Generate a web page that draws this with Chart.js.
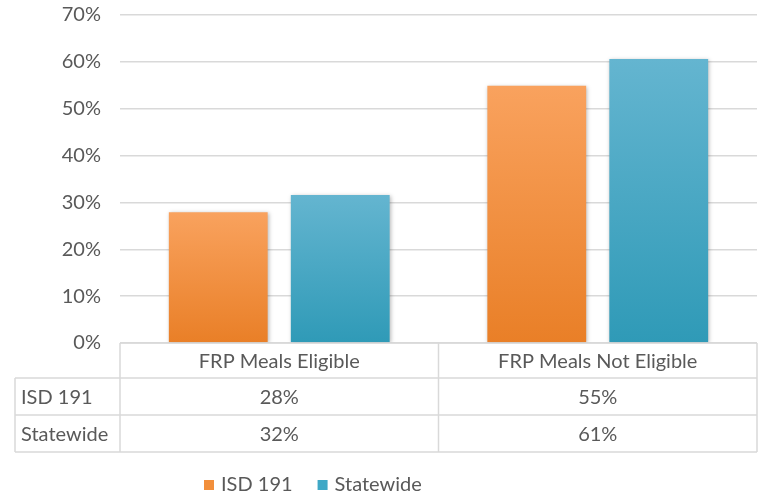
<!DOCTYPE html>
<html lang="en">
<head>
    <meta charset="UTF-8">
    <script src="https://cdn.jsdelivr.net/npm/chart.js@4/dist/chart.umd.min.js"></script>
    <title>FRP Meals</title>
    <style>
        html, body { margin: 0; padding: 0; background: #fff; }
        #wrap { width: 759px; height: 496px; }
    </style>
</head>
<body>
    <div id="wrap"><canvas id="frpChart" width="759" height="496"></canvas></div>

    <script>
        // data
        var categories = ["FRP Meals Eligible", "FRP Meals Not Eligible"]
        var seriesNames = ["ISD 191", "Statewide"]
        var isdValues = [27.9, 54.9]
        var stateValues = [31.6, 60.6]
        var yTicks = ["0%", "10%", "20%", "30%", "40%", "50%", "60%", "70%"]

        var FONT = "Lato, 'Open Sans', sans-serif"
        var SIZE = 20
        var TEXT = "#595959"
        var LINE = "#d9d9d9"
        var shades = [
            { top: "#f9a25e", bottom: "#e97f27", solid: "#f28f3b" },
            { top: "#64b5d0", bottom: "#2f9ab7", solid: "#3fa8c6" }
        ]

        function barFill (idx) {
            return function (ctx) {
                var chart = ctx.chart
                var y = chart.scales.y
                if (!chart.chartArea || !y || ctx.raw == null) return shades[idx].solid
                var t = y.getPixelForValue(ctx.raw)
                var b = y.getPixelForValue(0)
                var g = chart.ctx.createLinearGradient(0, t, 0, b)
                g.addColorStop(0, shades[idx].top)
                g.addColorStop(1, shades[idx].bottom)
                return g
            }
        }

        // soft shadow behind the bars
        var barShadow = {
            id: "barShadow",
            beforeDatasetsDraw (chart) {
                var c = chart.ctx
                c.save()
                c.shadowColor = "rgba(0,0,0,0.28)"
                c.shadowBlur = 4
                c.shadowOffsetX = 1
                c.shadowOffsetY = 1
            },
            afterDatasetsDraw (chart) {
                chart.ctx.restore()
            }
        }

        // data table under the plot + legend
        var dataTable = {
            id: "dataTable",
            afterDraw (chart) {
                var c = chart.ctx
                var x = chart.scales.x
                var area = chart.chartArea
                var half = (x.getPixelForValue(1) - x.getPixelForValue(0)) / 2
                var left = 15
                var colL = area.left
                var right = area.right
                var rows = [area.bottom, area.bottom + 35, area.bottom + 72, area.bottom + 109]

                c.save()
                c.strokeStyle = LINE
                c.lineWidth = 1.5
                c.beginPath()
                // header row has no label cell
                c.moveTo(colL, rows[0]); c.lineTo(right, rows[0])
                c.moveTo(left, rows[1]); c.lineTo(right, rows[1])
                c.moveTo(left, rows[2]); c.lineTo(right, rows[2])
                c.moveTo(left, rows[3]); c.lineTo(right, rows[3])
                c.moveTo(left, rows[1]); c.lineTo(left, rows[3])
                c.moveTo(colL, rows[0]); c.lineTo(colL, rows[3])
                categories.forEach(function (cat, i) {
                    var xr = x.getPixelForValue(i) + half
                    c.moveTo(xr, rows[0]); c.lineTo(xr, rows[3])
                })
                c.stroke()

                c.fillStyle = TEXT
                c.font = SIZE + "px " + FONT
                c.textBaseline = "middle"
                c.textAlign = "center"
                categories.forEach(function (cat, i) {
                    var cx = x.getPixelForValue(i)
                    c.fillText(cat, cx, (rows[0] + rows[1]) / 2 + 1)
                    chart.data.datasets.forEach(function (ds, j) {
                        c.fillText(Math.round(ds.data[i]) + "%", cx, (rows[j + 1] + rows[j + 2]) / 2 + 1)
                    })
                })
                c.textAlign = "left"
                chart.data.datasets.forEach(function (ds, j) {
                    c.fillText(ds.label, left + 6, (rows[j + 1] + rows[j + 2]) / 2 + 1)
                })

                // legend
                var ly = 485
                var lx = 204
                chart.data.datasets.forEach(function (ds, j) {
                    c.fillStyle = shades[j].solid
                    c.fillRect(lx, ly - 5, 10, 10)
                    c.fillStyle = TEXT
                    c.fillText(ds.label, lx + 17, ly)
                    lx += 17 + c.measureText(ds.label).width + 25
                })
                c.restore()
            }
        }

        new Chart("frpChart", {
            type: "bar",
            data: {
                labels: categories,
                datasets: [{
                    label: seriesNames[0],
                    data: isdValues,
                    backgroundColor: barFill(0)
                }, {
                    label: seriesNames[1],
                    data: stateValues,
                    backgroundColor: barFill(1)
                }]
            },
            options: {
                responsive: false,
                animation: false,
                layout: { padding: { top: 15, right: 2, bottom: 153, left: 0 } },
                datasets: {
                    bar: { categoryPercentage: 0.766, barPercentage: 0.81 }
                },
                plugins: {
                    legend: { display: false },
                    tooltip: { enabled: false }
                },
                scales: {
                    x: { display: false },
                    y: {
                        min: 0,
                        max: 70,
                        afterFit: function (s) { s.width = 120 },
                        border: { display: false },
                        grid: {
                            color: LINE,
                            lineWidth: 1.5,
                            drawTicks: true,
                            tickLength: 19,
                            tickColor: "rgba(0,0,0,0)"
                        },
                        ticks: {
                            stepSize: 10,
                            padding: 0,
                            color: TEXT,
                            font: { family: FONT, size: SIZE },
                            callback: function (v) { return yTicks[v / 10] }
                        }
                    }
                }
            },
            plugins: [barShadow, dataTable]
        })
    </script>
</body>
</html>
